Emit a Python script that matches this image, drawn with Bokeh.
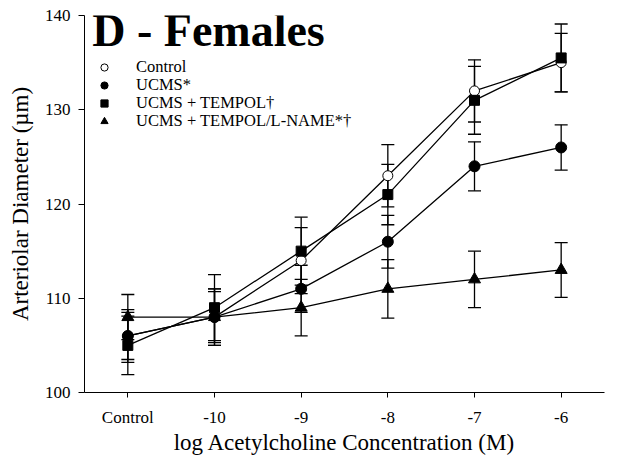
from bokeh.plotting import figure
from bokeh.models import ColumnDataSource, Whisker, TeeHead, Legend, LegendItem, Label, FixedTicker
from bokeh.embed import file_html
from bokeh.resources import INLINE

# ---- data ----
tick_labels = ["Control", "-10", "-9", "-8", "-7", "-6"]
x_pos = [0, 1, 2, 3, 4, 5]

control = [106, 108, 114, 123, 132, 135]
control_err = [2.5, 3.0, 3.5, 3.3, 3.3, 3.1]

ucms = [106, 108, 111, 116, 124, 126]
ucms_err = [2.8, 2.7, 2.5, 2.8, 2.6, 2.4]

tempol = [105, 109, 115, 121, 131, 135.5]
tempol_err = [3.1, 3.5, 3.6, 3.2, 3.6, 3.6]

lname = [108, 108, 109, 111, 112, 113]
lname_err = [2.4, 3.0, 3.0, 3.1, 3.0, 2.9]

series_names = ["Control", "UCMS*", "UCMS + TEMPOL\u2020", "UCMS + TEMPOL/L-NAME*\u2020"]

FONT = "Liberation Serif"

p = figure(width=624, height=466, x_range=(-0.5, 5.5), y_range=(100, 140),
           output_backend="svg", toolbar_location=None,
           min_border_left=84, min_border_right=20, min_border_top=15, min_border_bottom=74)
p.outline_line_color = None
p.xgrid.visible = False
p.ygrid.visible = False
p.background_fill_color = "white"
p.border_fill_color = "white"

# axes
p.xaxis.ticker = FixedTicker(ticks=x_pos)
p.xaxis.major_label_overrides = {i: t for i, t in zip(x_pos, tick_labels)}
p.yaxis.ticker = FixedTicker(ticks=[100, 110, 120, 130, 140])
for ax in (p.xaxis[0], p.yaxis[0]):
    ax.axis_line_color = "black"
    ax.axis_line_width = 1
    ax.major_tick_line_color = "black"
    ax.major_tick_in = 0
    ax.minor_tick_line_color = None
    ax.major_label_text_font = FONT
    ax.axis_label_text_font = FONT
    ax.axis_label_text_font_style = "normal"
    ax.major_label_text_color = "black"
    ax.axis_label_text_color = "black"

p.xaxis.major_tick_out = 5
p.xaxis.major_label_text_font_size = "17px"
p.xaxis.major_label_standoff = 10
p.xaxis.axis_label = "log Acetylcholine Concentration (M)"
p.xaxis.axis_label_text_font_size = "23px"
p.xaxis.axis_label_standoff = 0

p.yaxis.major_tick_out = 6
p.yaxis.major_label_text_font_size = "17px"
p.yaxis.major_label_standoff = 8
p.yaxis.axis_label = "Arteriolar Diameter (\u00b5m)"
p.yaxis.axis_label_text_font_size = "23px"
p.yaxis.axis_label_standoff = 9

# series
specs = [
    (control, control_err, "circle", "white", 10),
    (ucms, ucms_err, "circle", "black", 11),
    (tempol, tempol_err, "square", "black", 10),
    (lname, lname_err, "triangle", "black", 12),
]

# legend row centres (px from top of frame area)
row_centres = [67, 85, 103, 121]
ROW_H = 18

for (vals, errs, marker, fill, size), name, rc in zip(specs, series_names, row_centres):
    src = ColumnDataSource(dict(
        x=x_pos, y=vals,
        upper=[v + e for v, e in zip(vals, errs)],
        lower=[v - e for v, e in zip(vals, errs)],
    ))
    p.line("x", "y", source=src, line_color="black", line_width=1.3)
    r = p.scatter("x", "y", source=src, marker=marker, size=size,
                  fill_color=fill, line_color="black", line_width=1)
    w = Whisker(source=src, base="x", upper="upper", lower="lower", dimension="height",
                line_color="black", line_width=1.3,
                upper_head=TeeHead(size=13, line_color="black", line_width=1.3),
                lower_head=TeeHead(size=13, line_color="black", line_width=1.3))
    p.add_layout(w)
    leg = Legend(items=[LegendItem(label=name, renderers=[r], index=0)],
                 location=(10, 392 - rc - 10), padding=0, margin=0,
                 spacing=0, glyph_width=20, glyph_height=ROW_H, label_height=ROW_H,
                 label_standoff=22, label_text_font=FONT, label_text_font_size="16.5px",
                 label_text_color="black",
                 border_line_color=None, background_fill_alpha=0)
    p.add_layout(leg)

title = Label(x=-0.41, y=138.4, text="D - Females", text_font=FONT,
              text_font_size="46px", text_font_style="bold", text_color="black",
              text_baseline="alphabetic", text_align="left")
p.add_layout(title)

open("out.html", "w").write(file_html(p, INLINE))
